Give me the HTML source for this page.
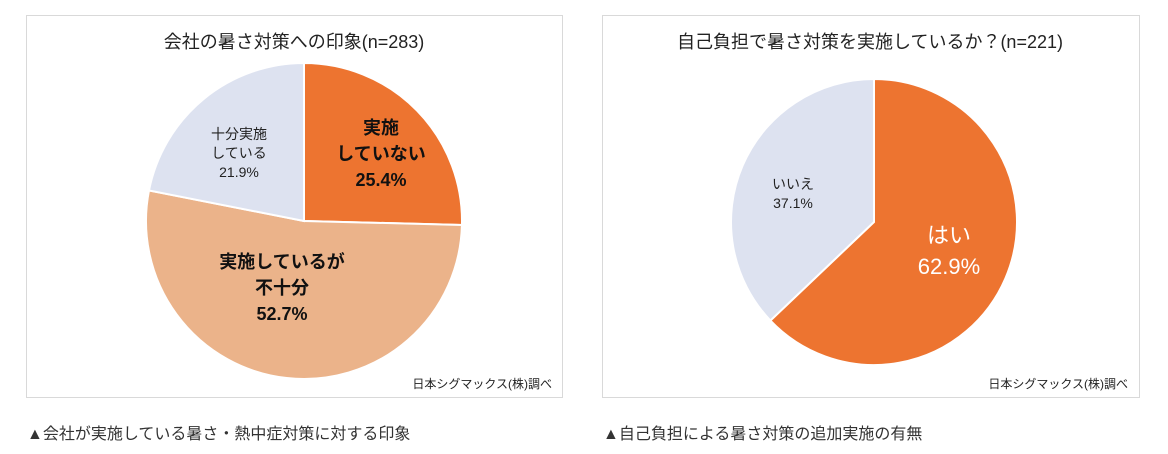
<!DOCTYPE html>
<html><head><meta charset="utf-8"><style>
body{margin:0;width:1168px;height:454px;background:#fff;overflow:hidden;font-family:"Liberation Sans","Noto Sans CJK JP",sans-serif;}
svg{position:absolute;left:0;top:0}
</style></head><body>
<svg width="1168" height="454" xmlns="http://www.w3.org/2000/svg" font-family="Liberation Sans, Noto Sans CJK JP, sans-serif">
<rect x="26.5" y="15.5" width="536" height="382" fill="#fff" stroke="#d9d9d9"/>
<rect x="602.5" y="15.5" width="537" height="382" fill="#fff" stroke="#d9d9d9"/>
<text x="294" y="48" font-size="18" text-anchor="middle" fill="#222">会社の暑さ対策への印象(n=283)</text>
<text x="870" y="48" font-size="18" text-anchor="middle" fill="#222">自己負担で暑さ対策を実施しているか？(n=221)</text>
<g id="left-pie"></g>
<g id="right-pie"></g>
<text font-size="18" font-weight="bold" text-anchor="middle" fill="#111"><tspan x="381" y="134">実施</tspan><tspan x="381" y="160">していない</tspan><tspan x="381" y="186">25.4%</tspan></text>
<text font-size="18" font-weight="bold" text-anchor="middle" fill="#111"><tspan x="282" y="268">実施しているが</tspan><tspan x="282" y="294">不十分</tspan><tspan x="282" y="320">52.7%</tspan></text>
<text font-size="14" text-anchor="middle" fill="#222"><tspan x="239" y="139">十分実施</tspan><tspan x="239" y="158">している</tspan><tspan x="239" y="177">21.9%</tspan></text>
<text font-size="14" text-anchor="middle" fill="#222"><tspan x="793" y="189">いいえ</tspan><tspan x="793" y="208">37.1%</tspan></text>
<text font-size="22" text-anchor="middle" fill="#fff"><tspan x="949" y="243">はい</tspan><tspan x="949" y="274">62.9%</tspan></text>
<text x="552" y="388" font-size="12" text-anchor="end" fill="#222">日本シグマックス(株)調べ</text>
<text x="1128" y="388" font-size="12" text-anchor="end" fill="#222">日本シグマックス(株)調べ</text>
<text x="27" y="439" font-size="16" fill="#333">▲会社が実施している暑さ・熱中症対策に対する印象</text>
<text x="603" y="439" font-size="16" fill="#333">▲自己負担による暑さ対策の追加実施の有無</text>
</svg>
<script>
const leftCategories=["実施していない","実施しているが不十分","十分実施している"];
const leftValues=[25.4,52.7,21.9];
const leftColors=["#ED7430","#EBB38A","#DDE2F0"];
const rightCategories=["はい","いいえ"];
const rightValues=[62.9,37.1];
const rightColors=["#ED7430","#DDE2F0"];
function drawPie(gid,cx,cy,r,vals,cols,names){
  const g=document.getElementById(gid);
  const total=vals.reduce((a,b)=>a+b,0);
  let a0=-Math.PI/2;
  vals.forEach((v,i)=>{
    const a1=a0+v/total*2*Math.PI;
    const x0=cx+r*Math.cos(a0),y0=cy+r*Math.sin(a0),x1=cx+r*Math.cos(a1),y1=cy+r*Math.sin(a1);
    const large=(a1-a0)>Math.PI?1:0;
    const p=document.createElementNS("http://www.w3.org/2000/svg","path");
    p.setAttribute("d",`M${cx},${cy}L${x0},${y0}A${r},${r} 0 ${large} 1 ${x1},${y1}Z`);
    p.setAttribute("fill",cols[i]);
    p.setAttribute("stroke","#fff");
    p.setAttribute("stroke-width","2");
    
    
    g.appendChild(p);
    a0=a1;
  });
}
drawPie("left-pie",304,221,158,leftValues,leftColors,leftCategories);
drawPie("right-pie",874,222,143,rightValues,rightColors,rightCategories);
</script>
</body></html>
